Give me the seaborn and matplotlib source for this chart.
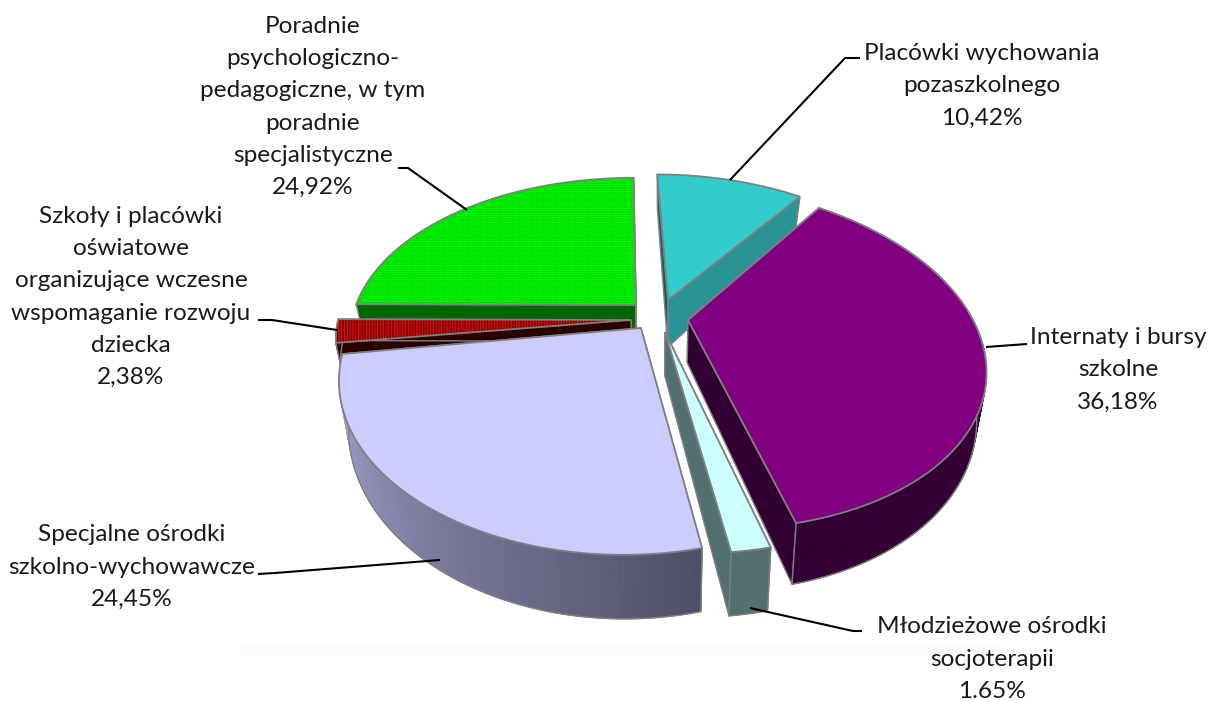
import numpy as np
import matplotlib
matplotlib.use("Agg")
import matplotlib.pyplot as plt
import seaborn as sns

# --- data ---------------------------------------------------------------
categories = ["Placówki wychowania\npozaszkolnego",
              "Internaty i bursy\nszkolne",
              "Młodzieżowe ośrodki\nsocjoterapii",
              "Specjalne ośrodki\nszkolno-wychowawcze",
              "Szkoły i placówki\noświatowe\norganizujące wczesne\nwspomaganie rozwoju\ndziecka",
              "Poradnie\npsychologiczno-\npedagogiczne, w tym\nporadnie\nspecjalistyczne"]
values = [10.42, 36.18, 1.65, 24.45, 2.38, 24.92]
value_labels = ["10,42%", "36,18%", "1.65%", "24,45%", "2,38%", "24,92%"]

# --- layout and style -----------------------------------------------------
top_colors = ["#33CCCC", "#800080", "#CCFFFF", "#CCCCFF", "#F00000", "#00FF00"]
hatch_colors = [None, None, None, None, "#5A0000", "#00C800"]
hatches = [None, None, None, None, "||||||", "......."]
wall_from = ["#2A9396", "#330033", "#527070", "#A9A9D6", "#2A0000", "#006600"]
wall_to = ["#2A9396", "#330033", "#527070", "#4E4E68", "#2A0000", "#006600"]
start_face = ["#0F5F63", "#330033", "#527070", "#4E4E68", "#2A0000", "#006600"]
end_face = ["#2A9396", "#330033", "#527070", "#4E4E68", "#2A0000", "#006600"]
apex = [(668, 300), (688, 320), (665, 332), (641, 328), (631, 320), (636, 305)]
x_scale = [270, 285, 313, 295, 293, 280]
y_scale = [152, 165, 175, 175, 154, 154]
shear = [-13, -26, -18, -16, -26, -3]
bulge = [0.0, 0.0, 0.0, 0.07, 0.0, 0.0]
depth_scale = [1.15, 1.0, 1.0, 1.0, 0.5, 0.6]
draw_order = [5, 0, 1, 4, 2, 3]
EDGE = "#808080"
PERSP = 0.211

label_pos = [(982, 86), (1118, 370), (992, 659), (132, 567), (131, 297), (313, 107)]
leaders = [[(730, 180), (845, 58), (860, 58)],
           [(986, 347), (1027, 344)],
           [(750, 608), (853, 631), (862, 631)],
           [(440, 560), (275, 573), (258, 574)],
           [(337, 330), (272, 320), (258, 320)],
           [(467, 210), (408, 168), (398, 168)]]

sns.set_theme(style="white")
plt.rcParams["font.family"] = ["Lato", "DejaVu Sans"]
plt.rcParams["hatch.linewidth"] = 1.0

fig = plt.figure(figsize=(12.10, 7.01), dpi=100)
ax = fig.add_axes([0, 0, 1, 1])
ax.set_xlim(0, 1210)
ax.set_ylim(701, 0)
ax.axis("off")


def project(i, theta, t):
    """Ground-plane point on the rim of slice i at clockwise angle theta."""
    u, v = np.sin(theta), np.cos(theta)
    w = 1 + PERSP * v
    r = 1 + bulge[i] * np.sin(np.pi * t)
    return (apex[i][0] + r * (x_scale[i] * u + shear[i] * v) / w,
            apex[i][1] - r * y_scale[i] * v / w)


def lower(i, x, y):
    """Matching point on the underside of the slice."""
    d = (30 + 30 * (np.asarray(y) - 180) / 330) * depth_scale[i]
    shift = 0.03 * depth_scale[i] * (np.asarray(x) - 660)
    return np.asarray(x) - shift, np.asarray(y) + d


fractions = np.array(values) / np.sum(values)
edges = np.concatenate([[0], np.cumsum(fractions)]) * 2 * np.pi

# faint floor shadow under the pie
ax.fill_between([240, 1000], 646, 656, color="#FBFBFB", lw=0, zorder=0)

z = 1
for i in draw_order:
    t0, t1 = edges[i], edges[i + 1]
    n = max(int(np.degrees(t1 - t0)), 6)
    th = np.linspace(t0, t1, n + 1)
    rx, ry = project(i, th, np.linspace(0, 1, n + 1))
    ax_, ay_ = apex[i]
    bx, by = lower(i, rx, ry)
    abx, aby = lower(i, ax_, ay_)

    # cut faces
    ax.fill([ax_, rx[0], bx[0], abx], [ay_, ry[0], by[0], aby],
            fc=start_face[i], ec=EDGE, lw=1.0, zorder=z)
    z += 1
    ax.fill([ax_, rx[-1], bx[-1], abx], [ay_, ry[-1], by[-1], aby],
            fc=end_face[i], ec=EDGE, lw=1.0, zorder=z)
    z += 1

    # outer wall, shaded along the arc (slices at the back do not show it)
    if np.mean(np.cos(th)) < 0.5:
        shades = sns.blend_palette([wall_to[i], wall_from[i]], n)
        for k in range(n):
            ax.fill([rx[k], rx[k + 1], bx[k + 1], bx[k]],
                    [ry[k], ry[k + 1], by[k + 1], by[k]],
                    fc=shades[k], ec=shades[k], lw=0.6, zorder=z)
        ax.plot(bx, by, color=EDGE, lw=1.0, zorder=z)
        for e in (0, -1):
            ax.plot([rx[e], bx[e]], [ry[e], by[e]], color=EDGE, lw=1.0, zorder=z)
    z += 1

    # top face
    px = np.concatenate([[ax_], rx])
    py = np.concatenate([[ay_], ry])
    ax.fill(px, py, fc=top_colors[i], ec="none", zorder=z)
    if hatches[i]:
        ax.fill(px, py, fc="none", ec=hatch_colors[i], hatch=hatches[i], lw=0, zorder=z)
    ax.fill(px, py, fc="none", ec=EDGE, lw=1.3, zorder=z)
    z += 1

# leaders and labels
for pts, pos, name, val in zip(leaders, label_pos, categories, value_labels):
    xs, ys = zip(*pts)
    ax.plot(xs, ys, color="black", lw=1.5, zorder=z, solid_capstyle="butt")
    ax.text(pos[0], pos[1], name + "\n" + val, ha="center", va="center",
            fontsize=17.6, color="#1a1a1a", linespacing=1.66, zorder=z + 1)

fig.savefig("out.png", dpi=100, facecolor="white")
